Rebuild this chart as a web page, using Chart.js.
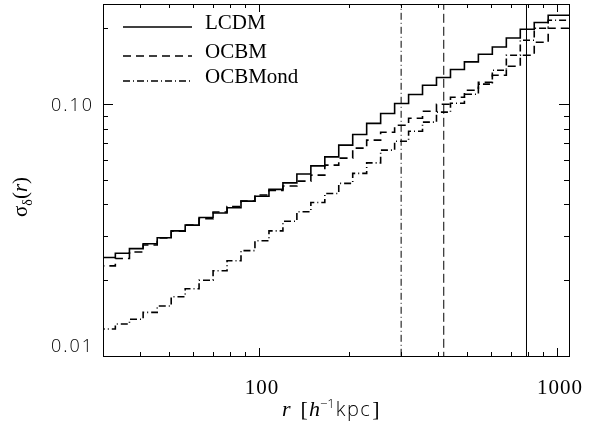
<!DOCTYPE html>
<html>
<head>
<meta charset="utf-8">
<script src="https://cdn.jsdelivr.net/npm/chart.js@4.4.1/dist/chart.umd.min.js"></script>
<style>
  html, body { margin: 0; padding: 0; background: #fff; }
  #wrap { width: 592px; height: 423px; }
</style>
</head>
<body>
<div id="wrap"><canvas id="chart" width="592" height="423"></canvas></div>
<script>
// bin edges in r [h^-1 kpc] (log spaced), 34 bins
const binEdges = [29.6, 33.0, 36.8, 40.9, 45.6, 50.8, 56.6, 63.0, 70.2, 78.2, 87.1, 97.0,
  108.1, 120.4, 134.1, 149.4, 166.4, 185.3, 206.4, 229.9, 256.1, 285.3, 317.8, 353.9,
  394.2, 439.2, 489.1, 544.8, 606.8, 676.1, 753.0, 838.7, 934.1, 1040.4, 1158.8];

const lcdm = [0.0237, 0.0246, 0.0256, 0.0267, 0.0279, 0.0295, 0.0314, 0.0331, 0.0355, 0.0370,
  0.0388, 0.0412, 0.0431, 0.0459, 0.0487, 0.0528, 0.0569, 0.0618, 0.0688, 0.0758, 0.0839,
  0.0918, 0.1006, 0.1093, 0.1190, 0.1276, 0.1373, 0.1472, 0.1579, 0.1688, 0.1833, 0.1984,
  0.2110, 0.2255];
const ocbm = [0.0218, 0.0228, 0.0244, 0.0259, 0.0276, 0.0294, 0.0313, 0.0331, 0.0351, 0.0373,
  0.0392, 0.0412, 0.0436, 0.0454, 0.0473, 0.0495, 0.0523, 0.0573, 0.0611, 0.0669, 0.0720,
  0.0774, 0.0825, 0.0880, 0.0938, 0.1000, 0.1066, 0.1136, 0.1223, 0.1303, 0.1415, 0.1564,
  0.1762, 0.2002];
const ocbmond = [0.0124, 0.0128, 0.0134, 0.0140, 0.0149, 0.0158, 0.0172, 0.0185, 0.0200, 0.0218,
  0.0239, 0.0262, 0.0287, 0.0314, 0.0343, 0.0374, 0.0407, 0.0442, 0.0485, 0.0531, 0.0585,
  0.0657, 0.0713, 0.0781, 0.0849, 0.0930, 0.1009, 0.1096, 0.1201, 0.1364, 0.1564, 0.1795,
  0.2002, 0.2154];

// vertical marker radii: OCBMond, OCBM, LCDM
const markerR = [300, 417, 790];

const seriesNames = ['LCDM', 'OCBM', 'OCBMond'];
const xTickLabels = [100, 1000];
const yTickLabels = [0.01, 0.1];

const DASH = [8, 5];
const DASHDOT = [7, 3, 1, 3];
const styles = [[], DASH, DASHDOT];

function steps(vals) {
  const pts = vals.map((v, i) => ({ x: binEdges[i], y: v }));
  pts.push({ x: binEdges[vals.length], y: vals[vals.length - 1] });
  return pts;
}

function vline(r, dash) {
  return {
    data: [{ x: r, y: 0.001 }, { x: r, y: 1 }],
    borderColor: '#000', borderWidth: 1, borderDash: dash,
    pointRadius: 0, fill: false
  };
}

const series = [lcdm, ocbm, ocbmond].map((vals, i) => ({
  label: seriesNames[i],
  data: steps(vals),
  stepped: 'after',
  borderColor: '#000',
  borderWidth: 1.6,
  borderDash: styles[i],
  pointRadius: 0,
  fill: false
}));

// frame, inward ticks, labels, titles and legend in the IDL look
const idlAxes = {
  id: 'idlAxes',
  afterDraw(chart) {
    const { ctx, chartArea: a, scales: { x, y } } = chart;
    ctx.save();
    ctx.strokeStyle = '#000';
    ctx.fillStyle = '#000';
    ctx.lineWidth = 1;
    ctx.setLineDash([]);
    ctx.strokeRect(a.left + 0.5, a.top + 0.5, a.right - a.left, a.bottom - a.top);

    ctx.beginPath();
    for (let d = 0.01; d < 1; d *= 10) {
      for (let m = 1; m < 10; m++) {
        const v = d * m;
        if (v < y.min || v > y.max) continue;
        const p = Math.round(y.getPixelForValue(v)) + 0.5;
        const len = m === 1 ? 10 : 5;
        ctx.moveTo(a.left, p); ctx.lineTo(a.left + len, p);
        ctx.moveTo(a.right, p); ctx.lineTo(a.right - len, p);
      }
    }
    for (let d = 10; d < 10000; d *= 10) {
      for (let m = 1; m < 10; m++) {
        const v = d * m;
        if (v < x.min || v > x.max) continue;
        const p = Math.round(x.getPixelForValue(v)) + 0.5;
        const len = m === 1 ? 8 : 4;
        ctx.moveTo(p, a.bottom); ctx.lineTo(p, a.bottom - len);
        ctx.moveTo(p, a.top); ctx.lineTo(p, a.top + len);
      }
    }
    ctx.stroke();

    // tick labels
    ctx.font = '300 18px "Open Sans"';
    ctx.letterSpacing = '2px';
    ctx.textAlign = 'right';
    ctx.textBaseline = 'middle';
    yTickLabels.forEach(v => {
      const p = Math.min(y.getPixelForValue(v) + 2, a.bottom - 9);
      ctx.fillText(v.toFixed(2), 94, p);
    });
    ctx.font = '21px "Liberation Serif"';
    ctx.letterSpacing = '1px';
    ctx.textAlign = 'center';
    xTickLabels.forEach(v => {
      ctx.fillText(String(v), x.getPixelForValue(v) + 3, 388);
    });
    ctx.letterSpacing = '0px';

    // x title: r [h^-1 kpc]
    ctx.textAlign = 'left';
    ctx.textBaseline = 'alphabetic';
    let tx = 282;
    const base = 416;
    const put = (s, font, gap, dy, ls) => {
      ctx.font = font;
      ctx.letterSpacing = ls || '0px';
      tx += gap;
      ctx.fillText(s, tx, base + dy);
      tx += ctx.measureText(s).width;
    };
    put('r', 'italic 22px "Liberation Serif"', 0, 0);
    put('[', '22px "Liberation Serif"', 10, 0);
    put('h', 'italic 22px "Liberation Serif"', 1, 0);
    put('\u22121', '300 13px "Open Sans"', 0, -8);
    put('kpc', '300 20px "Open Sans"', 1, 0, '1.5px');
    put(']', '22px "Liberation Serif"', 1, 0);
    ctx.letterSpacing = '0px';

    // y title: sigma_delta(r), rotated
    ctx.save();
    ctx.translate(27, 190);
    ctx.rotate(-Math.PI / 2);
    tx = -27;
    const putR = (s, font, dy) => {
      ctx.font = font;
      ctx.fillText(s, tx, dy || 0);
      tx += ctx.measureText(s).width;
    };
    putR('\u03c3', '21px "Liberation Serif"');
    putR('\u03b4', '14px "Liberation Serif"', 5);
    putR('(', '21px "Liberation Serif"');
    putR('r', 'italic 21px "Liberation Serif"');
    putR(')', '21px "Liberation Serif"');
    ctx.restore();

    // legend
    ctx.lineWidth = 1.6;
    const rows = [27, 56, 81];
    chart.data.datasets.slice(0, 3).forEach((ds, i) => {
      ctx.setLineDash(ds.borderDash);
      ctx.beginPath();
      ctx.moveTo(123, rows[i]);
      ctx.lineTo(192, rows[i]);
      ctx.stroke();
      ctx.setLineDash([]);
      ctx.font = '21px "Liberation Serif"';
      ctx.fillText(ds.label, 205, rows[i] + 2);
    });
    ctx.restore();
  }
};

new Chart(document.getElementById('chart').getContext('2d'), {
  type: 'line',
  data: {
    datasets: [
      ...series,
      vline(markerR[0], DASHDOT),
      vline(markerR[1], [9, 4]),
      vline(markerR[2], [])
    ]
  },
  options: {
    responsive: false,
    animation: false,
    devicePixelRatio: 1,
    layout: { padding: { top: 4, right: 23, left: 0, bottom: 0 } },
    plugins: { legend: { display: false }, tooltip: { enabled: false } },
    scales: {
      x: {
        type: 'logarithmic', min: 30, max: 1097,
        grid: { display: false }, border: { display: false },
        ticks: { display: false },
        afterFit: s => { s.height = 67; }
      },
      y: {
        type: 'logarithmic', min: 0.01, max: 0.25,
        grid: { display: false }, border: { display: false },
        ticks: { display: false },
        afterFit: s => { s.width = 103; }
      }
    }
  },
  plugins: [idlAxes]
});
</script>
</body>
</html>
